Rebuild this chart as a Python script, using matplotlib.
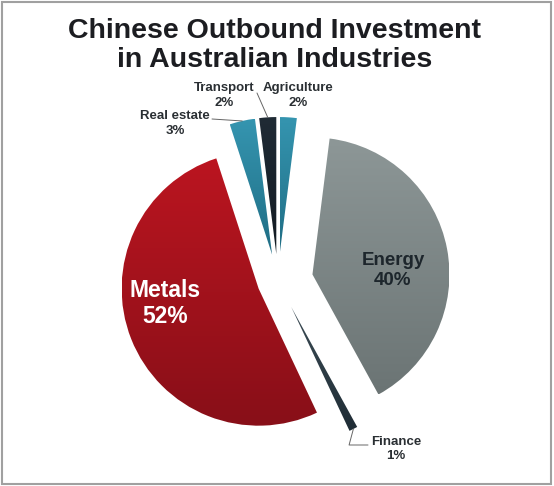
import numpy as np
import matplotlib
matplotlib.use('Agg')
import matplotlib.pyplot as plt
from matplotlib.colors import LinearSegmentedColormap
from matplotlib.patches import Rectangle

categories = ['Agriculture', 'Energy', 'Finance', 'Metals', 'Real estate', 'Transport']
shares = [2, 40, 1, 52, 3, 2]
explode = [0.197, 0.256, 0.212, 0.152, 0.197, 0.197]
top_colors = ['#3595b0', '#8d9797', '#3c4c55', '#bb1520', '#3595b0', '#202b35']
bottom_colors = ['#1f6d84', '#6b7474', '#1f2c35', '#880f18', '#1f6d84', '#121a22']

W, H = 554, 486
R = 137.0
CX, CY = 278, 281


def px(x, y):
    # pixel position (from top left) -> data coords, pie radius = 1
    return (x - CX) / R, (CY - y) / R


plt.rcParams['font.family'] = ['Liberation Sans', 'DejaVu Sans']
fig = plt.figure(figsize=(W / 100, H / 100), dpi=100)
ax = fig.add_axes([0, 0, 1, 1])

wedges, _ = ax.pie(shares, explode=explode, startangle=90, counterclock=False)
grad = np.linspace(0, 1, 256).reshape(-1, 1)
for w, c0, c1 in zip(wedges, top_colors, bottom_colors):
    w.set_facecolor('none')
    w.set_edgecolor('none')
    ext = w.get_path().get_extents()
    cmap = LinearSegmentedColormap.from_list('g', [c1, c0])
    im = ax.imshow(grad, cmap=cmap, origin='lower', aspect='auto',
                   extent=(ext.x0, ext.x1, ext.y0, ext.y1), zorder=1)
    im.set_clip_path(w)


def tip(i):
    w = wedges[i]
    a = np.deg2rad((w.theta1 + w.theta2) / 2)
    return w.center[0] + w.r * np.cos(a), w.center[1] + w.r * np.sin(a)


lead = dict(arrowstyle='-', color='#666666', lw=0.7, shrinkA=0, shrinkB=0)
ax.annotate('', xy=tip(5), xytext=px(257, 93), arrowprops=lead)
ax.annotate('', xy=tip(4), xytext=px(212, 119), arrowprops=lead)
ax.annotate('', xy=tip(2), xytext=px(368, 445),
            arrowprops=dict(lead, connectionstyle='angle,angleA=0,angleB=75,rad=0'))

small = dict(ha='center', va='baseline', fontsize=9.5, fontweight='bold', color='#2a2f33')
for (x, y1, y2), name, pct in [((224, 91, 106), 'Transport', '2%'),
                               ((298, 91, 106), 'Agriculture', '2%'),
                               ((175, 119, 134), 'Real estate', '3%'),
                               ((396, 445, 459), 'Finance', '1%')]:
    ax.text(*px(x, y1), name, **small)
    ax.text(*px(x, y2), pct, **small)

big = dict(ha='center', va='baseline', fontweight='bold')
ax.text(*px(393, 265), 'Energy', fontsize=13.5, color='#1d262c', **big)
ax.text(*px(393, 285), '40%', fontsize=13.5, color='#1d262c', **big)
ax.text(*px(165, 297), 'Metals', fontsize=16.5, color='white', **big)
ax.text(*px(165, 323), '52%', fontsize=16.5, color='white', **big)

fig.text(275 / W, 1 - 38 / H, 'Chinese Outbound Investment', ha='center', va='baseline',
         fontsize=20.5, fontweight='bold', color='#1c1d21')
fig.text(275 / W, 1 - 67 / H, 'in Australian Industries', ha='center', va='baseline',
         fontsize=20.5, fontweight='bold', color='#1c1d21')

ax.set_xlim(-CX / R, (W - CX) / R)
ax.set_ylim((CY - H) / R, CY / R)
ax.axis('off')

fig.patches.append(Rectangle((2 / W, 2 / H), 549 / W, 482 / H, transform=fig.transFigure,
                             fill=False, edgecolor='#a0a0a0', lw=1.5))
fig.savefig('out.png', dpi=100)
